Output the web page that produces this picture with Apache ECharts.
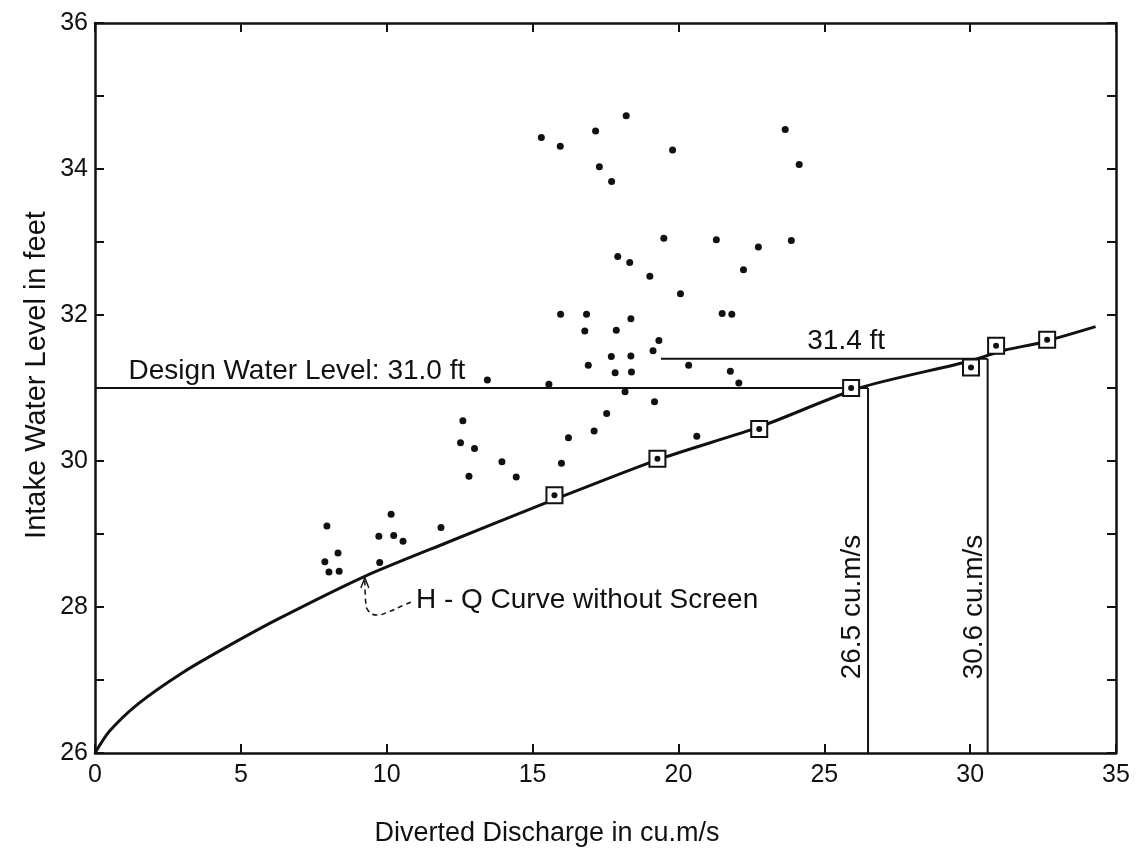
<!DOCTYPE html>
<html>
<head>
<meta charset="utf-8">
<script src="https://cdn.jsdelivr.net/npm/echarts@6/dist/echarts.min.js"></script>
<style>
html,body{margin:0;padding:0;background:#fff;}
#chart{width:1140px;height:852px;}
</style>
</head>
<body>
<div id="chart"></div>
<script>
// H-Q curve without screen (discharge cu.m/s, level ft)
const curvePoints = [[0,26.0],[0.5,26.3],[1.5,26.68],[3,27.1],[4.5,27.45],[6.3,27.84],[9.25,28.42],[12.05,28.88],[15.6,29.45],[19.3,30.02],[22.8,30.47],[26.2,31.0],[29.9,31.36],[31.2,31.52],[32.4,31.62],[34.3,31.84]];
// Boxed observation points on the curve
const squarePoints = [[15.75,29.53],[19.28,30.03],[22.77,30.44],[25.92,31.0],[30.03,31.28],[30.89,31.58],[32.64,31.66]];
// Scattered observations
const dotPoints = [
 [15.30,34.43],[15.95,34.31],[17.16,34.52],[18.21,34.73],[19.80,34.26],[17.29,34.03],[17.71,33.83],[19.50,33.05],
 [17.92,32.80],[18.33,32.72],[19.02,32.53],[20.07,32.29],[15.96,32.01],[16.85,32.01],[18.37,31.95],[16.79,31.78],
 [17.87,31.79],[19.33,31.65],[19.13,31.51],[17.70,31.43],[18.37,31.44],[20.35,31.31],[16.91,31.31],[17.83,31.21],
 [18.39,31.22],[13.45,31.11],[15.56,31.05],[21.50,32.02],[21.83,32.01],[21.78,31.23],[22.07,31.07],[18.17,30.95],
 [19.18,30.81],[20.63,30.34],[12.61,30.55],[12.53,30.25],[13.01,30.17],[13.95,29.99],[12.82,29.79],[14.44,29.78],
 [15.99,29.97],[16.23,30.32],[17.11,30.41],[17.54,30.65],[7.95,29.11],[10.15,29.27],[9.73,28.97],[10.24,28.98],
 [10.56,28.90],[11.86,29.09],[8.33,28.74],[7.88,28.62],[8.02,28.48],[8.37,28.49],[9.76,28.61],
 [23.66,34.54],[24.14,34.06],[23.87,33.02],[21.30,33.03],[22.74,32.93],[22.23,32.62]
];
// Reference lines
const designLevelLine = [[0,31.0],[26.5,31.0]];
const level314Line = [[19.4,31.4],[30.6,31.4]];
const q265Line = [[26.5,26],[26.5,31.0]];
const q306Line = [[30.6,26],[30.6,31.4]];
// Leader from label to curve
const leaderPoints = [[9.25,28.36],[9.28,28.06],[9.35,27.96],[9.66,27.89],[10.10,27.94],[10.55,28.02],[10.92,28.08]];
const arrowTip = [[9.25,28.33]];
// Annotation texts with anchor coordinates
const annotations = [
 {name:'Design Water Level: 31.0 ft', value:[1.15,31.23], rot:0, pos:'right'},
 {name:'31.4 ft', value:[25.75,31.64], rot:0, pos:'inside'},
 {name:'H - Q Curve without Screen', value:[11.0,28.09], rot:0, pos:'right'},
 {name:'26.5 cu.m/s', value:[25.96,28.0], rot:90, pos:'inside'},
 {name:'30.6 cu.m/s', value:[30.14,28.0], rot:90, pos:'inside'}
];
const xTicks = {min:0, max:35, step:5};
const yTicks = {min:26, max:36, step:1};
const xTitle = 'Diverted Discharge in cu.m/s';
const yTitle = 'Intake Water Level in feet';

const FONT = 'Liberation Sans';
const INK = '#111';
const chart = echarts.init(document.getElementById('chart'), null, {renderer:'canvas'});

const axisCommon = () => ({
  axisLine:{show:true, onZero:false, lineStyle:{color:INK, width:2.5}},
  axisTick:{show:true, inside:true, length:9, lineStyle:{color:INK, width:2}},
  splitLine:{show:false}
});

const lineSeries = (data, w, extra) => Object.assign({
  type:'line', data:data, symbol:'none', silent:true, animation:false,
  lineStyle:{color:INK, width:w}, z:3
}, extra || {});

chart.setOption({
  animation:false,
  backgroundColor:'#fff',
  grid:{left:95, right:24, top:23, bottom:99, containLabel:false},
  xAxis:[
    Object.assign({type:'value', min:xTicks.min, max:xTicks.max, interval:xTicks.step, position:'bottom',
      axisLabel:{color:INK, fontSize:25, fontFamily:FONT, margin:10}}, axisCommon()),
    Object.assign({type:'value', min:xTicks.min, max:xTicks.max, interval:xTicks.step, position:'top',
      axisLabel:{show:false}}, axisCommon())
  ],
  yAxis:[
    Object.assign({type:'value', min:yTicks.min, max:yTicks.max, interval:yTicks.step, position:'left',
      axisLabel:{color:INK, fontSize:25, fontFamily:FONT, margin:7,
        formatter:v => (v % 2 === 0 ? String(v) : '')}}, axisCommon()),
    Object.assign({type:'value', min:yTicks.min, max:yTicks.max, interval:yTicks.step, position:'right',
      axisLabel:{show:false}}, axisCommon())
  ],
  graphic:[
    {type:'text', x:547, y:834,
      style:{text:xTitle, font:'27px "Liberation Sans"', fill:INK, align:'center', verticalAlign:'middle'}},
    {type:'text', x:37, y:375, rotation:Math.PI/2,
      style:{text:yTitle, font:'29px "Liberation Sans"', fill:INK, align:'center', verticalAlign:'middle'}}
  ],
  series:[
    lineSeries(curvePoints, 3, {smooth:0.25}),
    lineSeries(designLevelLine, 2),
    lineSeries(level314Line, 2),
    lineSeries(q265Line, 2),
    lineSeries(q306Line, 2),
    lineSeries(leaderPoints, 1.5, {smooth:0.5, lineStyle:{color:INK, width:1.5, type:[5,4]}}),
    {type:'scatter', data:arrowTip, symbol:'path://M0,12 L6,0 L12,12', symbolSize:[8,10],
      itemStyle:{color:'none', borderColor:INK, borderWidth:1.5, opacity:1}, silent:true, z:4},
    {type:'scatter', data:dotPoints, symbol:'circle', symbolSize:7,
      itemStyle:{color:INK, opacity:1}, silent:true, z:5},
    {type:'scatter', data:squarePoints, symbol:'rect', symbolSize:16,
      itemStyle:{color:'#fff', borderColor:INK, borderWidth:2, opacity:1}, silent:true, z:6},
    {type:'scatter', data:squarePoints, symbol:'circle', symbolSize:6,
      itemStyle:{color:INK, opacity:1}, silent:true, z:7},
    {type:'scatter', symbolSize:0, silent:true, z:8, itemStyle:{opacity:1},
      data:annotations.map(a => ({name:a.name, value:a.value,
        label:{show:true, formatter:a.name, rotate:a.rot, position:a.pos, distance:0,
          color:INK, fontSize:28, fontFamily:FONT}}))}
  ]
});
</script>
</body>
</html>
